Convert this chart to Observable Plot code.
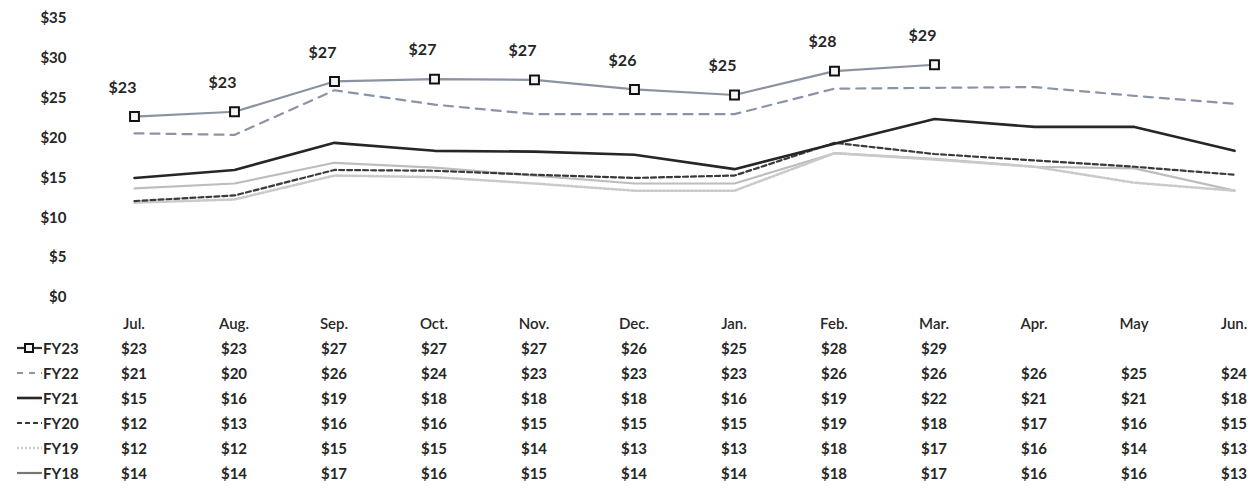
<!DOCTYPE html>
<html><head><meta charset="utf-8">
<script src="https://cdn.jsdelivr.net/npm/d3@7"></script>
<script src="https://cdn.jsdelivr.net/npm/@observablehq/plot@0.6"></script>
<style>
body{margin:0;background:#fff;width:1259px;height:488px;overflow:hidden;font-family:Lato,"Open Sans",sans-serif;color:#262626}
#chart svg{display:block}
.row{display:flex;height:25px;align-items:center;white-space:nowrap;width:1300px}
.key{width:84px;flex:none;display:flex;align-items:center;font-weight:bold;font-size:15px;box-sizing:border-box;padding-left:16px}
.key svg{display:block;margin-right:1px}
.cell{width:100px;flex:none;text-align:center;font-weight:bold;font-size:15px}
.hdr .cell{font-weight:600}
</style></head><body>
<div id="chart"></div><div id="table"></div>
<script>
const months = ["Jul.","Aug.","Sep.","Oct.","Nov.","Dec.","Jan.","Feb.","Mar.","Apr.","May","Jun."];
const seriesNames = ["FY23","FY22","FY21","FY20","FY19","FY18"];
const fy23 = [22.7, 23.3, 27.1, 27.4, 27.3, 26.1, 25.4, 28.4, 29.2];
const fy22 = [20.6, 20.4, 26.0, 24.2, 23.0, 23.0, 23.0, 26.2, 26.3, 26.4, 25.3, 24.3];
const fy21 = [15.0, 16.0, 19.4, 18.4, 18.3, 17.9, 16.1, 19.3, 22.4, 21.4, 21.4, 18.4];
const fy20 = [12.1, 12.8, 16.0, 15.9, 15.4, 15.0, 15.3, 19.4, 18.0, 17.2, 16.4, 15.4];
const fy19 = [11.9, 12.3, 15.3, 15.1, 14.3, 13.4, 13.4, 18.1, 17.3, 16.4, 14.4, 13.4];
const fy18 = [13.7, 14.3, 16.9, 16.3, 15.3, 14.3, 14.3, 18.1, 17.4, 16.4, 16.2, 13.4];
const yTicks = [0, 5, 10, 15, 20, 25, 30, 35];

const valuesBySeries = {FY23: fy23, FY22: fy22, FY21: fy21, FY20: fy20, FY19: fy19, FY18: fy18};
const styles = {
  FY23: {stroke: "#8b93a1", width: 2.2, dash: null},
  FY22: {stroke: "#8a94a6", width: 2.2, dash: "9,7"},
  FY21: {stroke: "#262626", width: 2.6, dash: null},
  FY20: {stroke: "#3a3a3a", width: 2.2, dash: "5,3"},
  FY19: {stroke: "#cacaca", width: 2.6, dash: "2,2"},
  FY18: {stroke: "#bdbdbd", width: 2.2, dash: null}
};
const fmt = v => "$" + Math.round(v);

const rows = seriesNames.flatMap(name => valuesBySeries[name].map((v, i) => ({series: name, month: months[i], value: v})));
const drawOrder = ["FY18","FY19","FY20","FY21","FY22","FY23"];
const lineMarks = drawOrder.map(name => Plot.line(rows.filter(d => d.series === name), {
  x: "month", y: "value", stroke: styles[name].stroke, strokeWidth: styles[name].width,
  strokeDasharray: styles[name].dash, strokeLinejoin: "round"
}));
const fy23Rows = rows.filter(d => d.series === "FY23");

const chart = Plot.plot({
  width: 1259, height: 310,
  marginLeft: 134, marginRight: 25, marginTop: 18, marginBottom: 13,
  style: {fontFamily: "Lato, 'Open Sans', sans-serif", fontSize: "15px", fontWeight: "bold", color: "#262626", background: "#fff"},
  x: {type: "point", domain: months, padding: 0, axis: null},
  y: {domain: [0, 35]},
  marks: [
    Plot.axisY({ticks: yTicks, tickSize: 0, tickPadding: 68, tickFormat: d => "$" + d, label: null}),
    ...lineMarks,
    Plot.dot(fy23Rows, {x: "month", y: "value", symbol: "square", r: 5, stroke: "#111", strokeWidth: 2, fill: "#f4f4f4"}),
    Plot.text(fy23Rows, {x: "month", y: "value", text: d => fmt(d.value), dx: -12, dy: -29, fontSize: 16, fontWeight: "bold", fill: "#262626"})
  ]
});
document.getElementById("chart").appendChild(chart);

function swatch(name) {
  const s = styles[name];
  const dash = s.dash ? `stroke-dasharray="${name === "FY22" ? "6,6" : s.dash}"` : "";
  let marker = "";
  if (name === "FY23") marker = `<rect x="9" y="2" width="8" height="8" fill="#f4f4f4" stroke="#111" stroke-width="2"/>`;
  const stroke = name === "FY23" ? "#333" : (name === "FY18" ? "#777" : s.stroke);
  return `<svg width="26" height="12"><line x1="1" x2="26" y1="6" y2="6" stroke="${stroke}" stroke-width="${s.width}" ${dash}/>${marker}</svg>`;
}

const table = document.getElementById("table");
let html = `<div class="row hdr"><div class="key"></div>${months.map(m => `<div class="cell">${m}</div>`).join("")}</div>`;
for (const name of seriesNames) {
  const vals = valuesBySeries[name];
  html += `<div class="row"><div class="key">${swatch(name)}<span>${name}</span></div>${months.map((m, i) => `<div class="cell">${i < vals.length ? fmt(vals[i]) : ""}</div>`).join("")}</div>`;
}
table.innerHTML = html;
</script>
</body></html>
